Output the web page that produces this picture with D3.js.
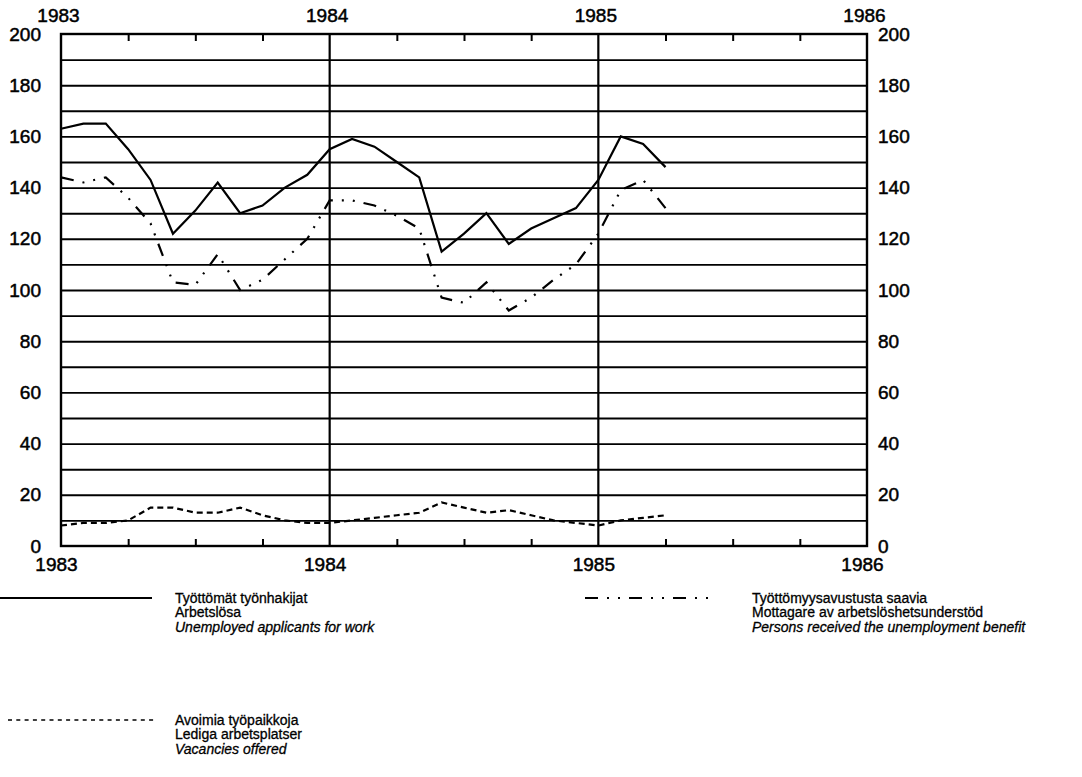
<!DOCTYPE html>
<html>
<head>
<meta charset="utf-8">
<script src="https://cdn.jsdelivr.net/npm/d3@7"></script>
<style>
    body { margin: 0; background: #fff; }
    svg { font-family: "Liberation Sans", Arial, sans-serif; }
</style>
</head>
<body>
<svg id="chart"></svg>
<script>
// monthly observations, Jan 1983 .. Apr 1985
const months = ["1983-01","1983-02","1983-03","1983-04","1983-05","1983-06","1983-07","1983-08","1983-09","1983-10","1983-11","1983-12",
                "1984-01","1984-02","1984-03","1984-04","1984-05","1984-06","1984-07","1984-08","1984-09","1984-10","1984-11","1984-12",
                "1985-01","1985-02","1985-03","1985-04"];
const unemployed = [163,165,165,155,143,122,131,142,130,133,140,145,
                    155,159,156,150,144,115,122,130,118,124,128,132,
                    143,160,157,148];
const benefit = [144,142,144,136,126,103,102,114,100,104,112,120,
                 135,135,133,129,124,97,95,103,92,97,104,110,
                 122,139,143,132];
const vacancies = [8,9,9,10,15,15,13,13,15,12,10,9,
                   9,10,11,12,13,17,15,13,14,12,10,9,
                   8,10,11,12];
const years = [1983, 1984, 1985, 1986];
const yTicks = [0,20,40,60,80,100,120,140,160,180,200];

const legendItems = [
    {lines: ["Työttömät työnhakijat", "Arbetslösa", "Unemployed applicants for work"], dash: null},
    {lines: ["Työttömyysavustusta saavia", "Mottagare av arbetslöshetsunderstöd", "Persons received the unemployment benefit"], dash: "13,9,2,9,2,9"},
    {lines: ["Avoimia työpaikkoja", "Lediga arbetsplatser", "Vacancies offered"], dash: "4,4.3"}
];

let width = 1082, height = 777;
let plot = {left: 61, top: 34, right: 867, bottom: 546};

let svg = d3.select("#chart")
    .attr("width", width)
    .attr("height", height);

let x = d3.scaleLinear().domain([1983, 1986]).range([plot.left, plot.right]);
let y = d3.scaleLinear().domain([0, 200]).range([plot.bottom, plot.top]);

let parseMonth = d3.timeParse("%Y-%m");
let t = months.map(m => { let d = parseMonth(m); return d.getFullYear() + d.getMonth() / 12; });

// horizontal grid every 10
svg.append("g")
    .attr("transform", "translate(" + plot.left + ",0)")
    .call(d3.axisLeft(y).tickValues(d3.range(10, 200, 10)).tickSize(-(plot.right - plot.left)).tickFormat(""))
    .call(g => g.select(".domain").remove())
    .selectAll("line").attr("stroke", "#000").attr("stroke-width", 1.9);

// year lines
svg.append("g").selectAll("line")
    .data(years.slice(1, 3))
    .enter().append("line")
    .attr("x1", d => x(d)).attr("x2", d => x(d))
    .attr("y1", plot.top).attr("y2", plot.bottom)
    .attr("stroke", "#000").attr("stroke-width", 2.2);

// frame
svg.append("rect")
    .attr("x", plot.left).attr("y", plot.top)
    .attr("width", plot.right - plot.left).attr("height", plot.bottom - plot.top)
    .attr("fill", "none").attr("stroke", "#000").attr("stroke-width", 2.4);

// quarter ticks
let quarters = d3.range(1983, 1986, 0.25).filter(q => q % 1 !== 0);
svg.append("g")
    .attr("transform", "translate(0," + plot.top + ")")
    .call(d3.axisBottom(x).tickValues(quarters).tickSize(7).tickFormat(""))
    .call(g => g.select(".domain").remove())
    .selectAll("line").attr("stroke-width", 2);
svg.append("g")
    .attr("transform", "translate(0," + plot.bottom + ")")
    .call(d3.axisTop(x).tickValues(quarters).tickSize(7).tickFormat(""))
    .call(g => g.select(".domain").remove())
    .selectAll("line").attr("stroke-width", 2);

// axis labels
function styleLabels(g) {
    g.select(".domain").remove();
    g.selectAll("text").attr("font-size", 19).attr("fill", "#000")
        .attr("stroke", "#000").attr("stroke-width", 0.5)
        .attr("font-family", "'Liberation Sans', Arial, sans-serif");
}
svg.append("g")
    .attr("transform", "translate(0," + plot.top + ")")
    .call(d3.axisTop(x).tickValues(years).tickFormat(d3.format("d")).tickSize(0).tickPadding(12))
    .call(styleLabels)
    .selectAll("text").attr("dx", -3);
svg.append("g")
    .attr("transform", "translate(0," + plot.bottom + ")")
    .call(d3.axisBottom(x).tickValues(years).tickFormat(d3.format("d")).tickSize(0).tickPadding(12))
    .call(styleLabels)
    .selectAll("text").attr("dx", -5);
svg.append("g")
    .attr("transform", "translate(" + plot.left + ",0)")
    .call(d3.axisLeft(y).tickValues(yTicks).tickSize(0).tickPadding(20))
    .call(styleLabels);
svg.append("g")
    .attr("transform", "translate(" + plot.right + ",0)")
    .call(d3.axisRight(y).tickValues(yTicks).tickSize(0).tickPadding(11))
    .call(styleLabels);

// series
let line = d3.line()
    .x((d, i) => x(t[i]))
    .y(d => y(d));

svg.append("path")
    .datum(unemployed)
    .attr("d", line)
    .attr("fill", "none").attr("stroke", "#000").attr("stroke-width", 2.2);
svg.append("path")
    .datum(benefit)
    .attr("d", line)
    .attr("fill", "none").attr("stroke", "#000").attr("stroke-width", 2.2)
    .attr("stroke-dasharray", legendItems[1].dash);
svg.append("path")
    .datum(vacancies)
    .attr("d", line)
    .attr("fill", "none").attr("stroke", "#000").attr("stroke-width", 2.2)
    .attr("stroke-dasharray", "6,4");

// legend
let legendPos = [
    {x1: 0, x2: 152, tx: 175, ty: 598},
    {x1: 585, x2: 712, tx: 752, ty: 598},
    {x1: 8, x2: 155, tx: 175, ty: 720}
];
legendItems.forEach(function(item, i) {
    let p = legendPos[i];
    let g = svg.append("g");
    g.append("line")
        .attr("x1", p.x1).attr("x2", p.x2)
        .attr("y1", p.ty).attr("y2", p.ty)
        .attr("stroke", "#000").attr("stroke-width", i == 2 ? 1.5 : 2)
        .attr("stroke-dasharray", item.dash);
    g.selectAll("text")
        .data(item.lines)
        .enter().append("text")
        .attr("x", p.tx)
        .attr("y", (d, j) => p.ty + j * 14.5)
        .attr("dy", "0.35em")
        .attr("font-size", 14)
        .attr("stroke", "#000").attr("stroke-width", 0.3)
        .attr("font-style", (d, j) => j == 2 ? "italic" : "normal")
        .text(d => d);
});
</script>
</body>
</html>
